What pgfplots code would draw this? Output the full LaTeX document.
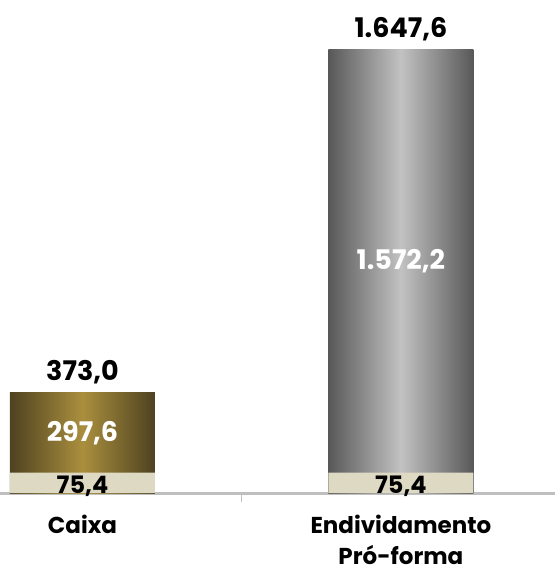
\documentclass[border=0pt]{standalone}
\usepackage{pgfplots}
\pgfplotsset{compat=1.18}
\usepackage{fontspec}
\setmainfont{Poppins}
\definecolor{golddark}{HTML}{4E4220}
\definecolor{goldlight}{HTML}{AA8F3E}
\definecolor{graydark}{HTML}{585858}
\definecolor{graylight}{HTML}{C2C2C2}
\definecolor{beige}{HTML}{DDD9C3}
\definecolor{axisgray}{HTML}{BFBFBF}
\begin{document}
\begin{tikzpicture}
\begin{axis}[
  scale only axis,
  width=555pt, height=493pt,
  xmin=-0.259, xmax=1.484,
  ymin=0, ymax=1832,
  axis x line*=bottom,
  axis y line=none,
  x axis line style={draw=axisgray, line width=3pt},
  xtick={0,1},
  xticklabels={Caixa,{Endividamento\\Pró-forma}},
  major tick length=0pt,
  extra x ticks={0.5},
  extra x tick labels={},
  extra x tick style={major tick length=9pt, tick align=outside, tick style={draw=axisgray, line width=1.5pt}},
  xticklabel style={font=\bfseries\fontsize{23}{31}\selectfont, align=center, yshift=-19pt},
  clip=false,
  bar width=145pt,
  /pgf/number format/assume math mode=true,
]
\addplot[ybar, bar shift=0pt, draw=none, left color=golddark, right color=golddark, middle color=goldlight,
  nodes near coords={\pgfmathprintnumber[fixed,fixed zerofill,precision=1,use comma]{\pgfplotspointmeta}},
  every node near coord/.append style={black, font=\bfseries\fontsize{27}{30}\selectfont, yshift=5pt}]
  coordinates {(0,373.0)};
\addplot[ybar, bar shift=0pt, draw=none, left color=graydark, right color=graydark, middle color=graylight,
  nodes near coords={\pgfmathprintnumber[fixed,fixed zerofill,precision=1,use comma]{\pgfplotspointmeta}},
  every node near coord/.append style={black, font=\bfseries\fontsize{27}{30}\selectfont, yshift=5pt}]
  coordinates {(1,1647.6)};
\addplot[ybar, bar shift=0pt, draw=none, fill=beige] coordinates {(0,75.4) (1,75.4)};
\addplot[draw=none, mark=none, nodes near coords, point meta=explicit symbolic,
  nodes near coords align={center},
  every node near coord/.append style={white, font=\bfseries\fontsize{27}{30}\selectfont}]
  coordinates {(0,224.2) [297,6] (1,861.5) [1.572,2]};
\addplot[draw=none, mark=none, nodes near coords, point meta=explicit symbolic,
  nodes near coords align={center},
  every node near coord/.append style={black, font=\bfseries\fontsize{24}{28}\selectfont, yshift=-3pt}]
  coordinates {(0,37.7) [75,4] (1,37.7) [75,4]};
\end{axis}
\pgfresetboundingbox
\path[use as bounding box] (0,-82pt) rectangle (555pt,493pt);
\end{tikzpicture}
\end{document}
